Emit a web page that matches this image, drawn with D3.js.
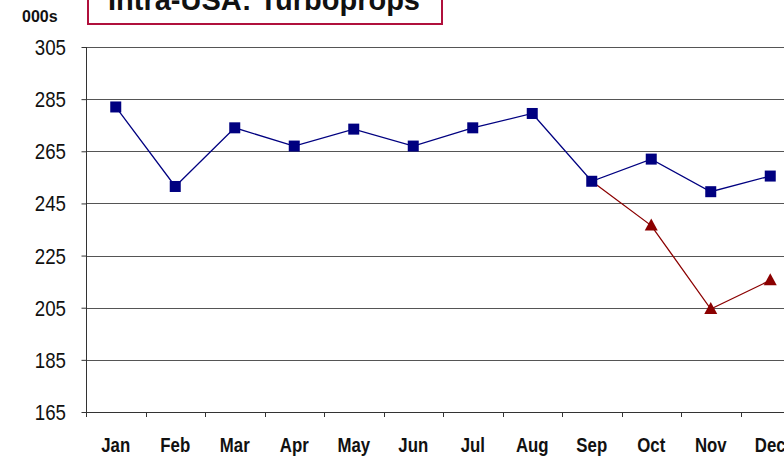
<!DOCTYPE html>
<html>
<head>
<meta charset="utf-8">
<script src="https://cdn.jsdelivr.net/npm/d3@7"></script>
<style>
  body { margin: 0; background: #fff; overflow: hidden; }
  svg { display: block; }
</style>
</head>
<body>
<svg id="chart" width="784" height="457"></svg>
<script>
// DATA -----------------------------------------------------------------
const months = ["Jan", "Feb", "Mar", "Apr", "May", "Jun", "Jul", "Aug", "Sep", "Oct", "Nov", "Dec"];
const actual = [282, 251.5, 274, 267, 273.5, 267, 274, 279.5, 253.5, 262, 249.5, 255.5];
const forecastMonths = ["Sep", "Oct", "Nov", "Dec"];
const forecast = [253.5, 236.5, 204.5, 215.5];
const yTicks = [165, 185, 205, 225, 245, 265, 285, 305];

// SET UP ---------------------------------------------------------------
const svg = d3.select("#chart");
const margin = { top: 47, left: 86 };
const innerWidth = 714;   // runs off the right edge like the original
const innerHeight = 365;
const font = "Arial, 'Liberation Sans', sans-serif";

const xScale = d3.scaleBand()
    .domain(months)
    .range([0, innerWidth]);

const yScale = d3.scaleLinear()
    .domain([165, 305])
    .range([innerHeight, 0]);

const g = svg.append("g")
    .attr("transform", `translate(${margin.left},${margin.top})`);

// gridlines
g.selectAll(".grid")
    .data(yTicks.slice(1))
    .enter()
    .append("line")
    .attr("class", "grid")
    .attr("x1", 0)
    .attr("x2", innerWidth)
    .attr("y1", d => Math.round(yScale(d)) + 0.5)
    .attr("y2", d => Math.round(yScale(d)) + 0.5)
    .attr("stroke", "#555")
    .attr("stroke-width", 1);

// y axis (labels drawn separately, condensed)
const yAxis = g.append("g")
    .attr("transform", "translate(0.5,0)")
    .call(d3.axisLeft(yScale).tickValues(yTicks).tickSize(5).tickFormat(""));
yAxis.select(".domain").attr("stroke", "#333").attr("d", `M0,0V${innerHeight}`);
yAxis.selectAll(".tick line").attr("stroke", "#333");

g.selectAll(".ylabel")
    .data(yTicks)
    .enter()
    .append("g")
    .attr("class", "ylabel")
    .attr("transform", d => `translate(-20,${yScale(d) + 8})`)
    .append("text")
    .attr("transform", "scale(0.85,1)")
    .attr("text-anchor", "end")
    .attr("font-family", font)
    .attr("font-size", 22)
    .attr("fill", "#111")
    .text(d => d);

// x axis
const xAxis = g.append("g")
    .attr("transform", `translate(0,${Math.round(innerHeight) + 0.5})`)
    .call(d3.axisBottom(xScale).tickSize(0).tickFormat(""));
xAxis.select(".domain").attr("stroke", "#333").attr("d", `M0,0H${innerWidth}`);

// x tick marks at the category boundaries
g.selectAll(".xtick")
    .data(months)
    .enter()
    .append("line")
    .attr("class", "xtick")
    .attr("x1", d => Math.round(xScale(d)) + 0.5)
    .attr("x2", d => Math.round(xScale(d)) + 0.5)
    .attr("y1", innerHeight)
    .attr("y2", innerHeight + 5)
    .attr("stroke", "#333");

const cx = d => xScale(d) + xScale.bandwidth() / 2;

g.selectAll(".xlabel")
    .data(months)
    .enter()
    .append("g")
    .attr("class", "xlabel")
    .attr("transform", d => `translate(${cx(d)},${innerHeight + 40})`)
    .append("text")
    .attr("transform", "scale(0.8,1)")
    .attr("text-anchor", "middle")
    .attr("font-family", font)
    .attr("font-weight", "bold")
    .attr("font-size", 21)
    .attr("fill", "#111")
    .text(d => d);

// actual line
const actualLine = d3.line()
    .x((d, i) => cx(months[i]))
    .y(d => yScale(d));

g.append("path")
    .datum(actual)
    .attr("fill", "none")
    .attr("stroke", "#000080")
    .attr("stroke-width", 1.3)
    .attr("d", actualLine);

// forecast line
const forecastLine = d3.line()
    .x((d, i) => cx(forecastMonths[i]))
    .y(d => yScale(d));

g.append("path")
    .datum(forecast)
    .attr("fill", "none")
    .attr("stroke", "#8b0000")
    .attr("stroke-width", 1.3)
    .attr("d", forecastLine);

// triangle markers
g.selectAll(".tri")
    .data(forecast.slice(1))
    .enter()
    .append("path")
    .attr("class", "tri")
    .attr("transform", (d, i) => `translate(${cx(forecastMonths[i + 1])},${yScale(d)})`)
    .attr("d", "M0,-7L6.5,5L-6.5,5Z")
    .attr("fill", "#8b0000");

// square markers
g.selectAll(".sq")
    .data(actual)
    .enter()
    .append("rect")
    .attr("class", "sq")
    .attr("x", (d, i) => cx(months[i]) - 5.5)
    .attr("y", d => yScale(d) - 5.5)
    .attr("width", 11)
    .attr("height", 11)
    .attr("fill", "#000080");

// unit label
svg.append("text")
    .attr("x", 22)
    .attr("y", 22)
    .attr("font-family", font)
    .attr("font-weight", "bold")
    .attr("font-size", 16)
    .attr("fill", "#111")
    .text("000s");

// title box (cut off at the top)
svg.append("rect")
    .attr("x", 88)
    .attr("y", -10)
    .attr("width", 354)
    .attr("height", 34)
    .attr("fill", "#fff")
    .attr("stroke", "#b0103c")
    .attr("stroke-width", 2);

svg.append("text")
    .attr("x", 264)
    .attr("y", 10)
    .attr("text-anchor", "middle")
    .attr("font-family", font)
    .attr("font-weight", "bold")
    .attr("font-size", 29)
    .attr("fill", "#111")
    .text("Intra-USA: Turboprops");
</script>
</body>
</html>
